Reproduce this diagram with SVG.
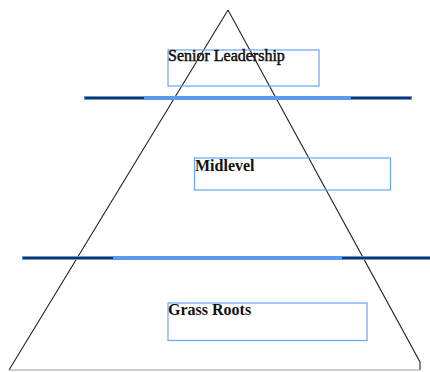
<svg xmlns="http://www.w3.org/2000/svg" width="430" height="372" viewBox="0 0 430 372">
<style>
.box{fill:none;stroke:#6aa3f5;stroke-width:1.2}
.lbl{font-family:"Liberation Serif","Times New Roman",serif;font-size:16px;fill:#111}
.b{font-weight:bold}
.sel{stroke:#5a9bf0;stroke-width:4}
.blk{stroke:#111;stroke-width:1.6}
</style>
<rect width="430" height="372" fill="#fff"/>
<g id="pyramid">
<path d="M228,10 L9,370 M228,10 L420,362 L420,370" fill="none" stroke="#222" stroke-width="1.1"/>
<line x1="9" y1="370" x2="420" y2="370" stroke="#999" stroke-width="1"/>
</g>
<g id="connectors">
<line class="sel" x1="84" y1="98" x2="412" y2="98"/>
<line class="blk" x1="85" y1="98" x2="144" y2="98"/>
<line class="blk" x1="351" y1="98" x2="411" y2="98"/>
<line class="sel" x1="22" y1="258" x2="430" y2="258"/>
<line class="blk" x1="23" y1="258" x2="113" y2="258"/>
<line class="blk" x1="342" y1="258" x2="430" y2="258"/>
</g>
<g id="senior">
<rect class="box" x="168" y="50" width="151" height="36"/>
<text class="lbl" x="168" y="61" stroke="#111" stroke-width="0.5">Senior Leadership</text>
</g>
<g id="midlevel">
<rect class="box" x="194.5" y="158" width="196" height="32"/>
<text class="lbl b" x="195" y="171">Midlevel</text>
</g>
<g id="grassroots">
<rect class="box" x="168" y="303" width="199" height="37.5"/>
<text class="lbl b" x="168" y="315">Grass Roots</text>
</g>
</svg>
